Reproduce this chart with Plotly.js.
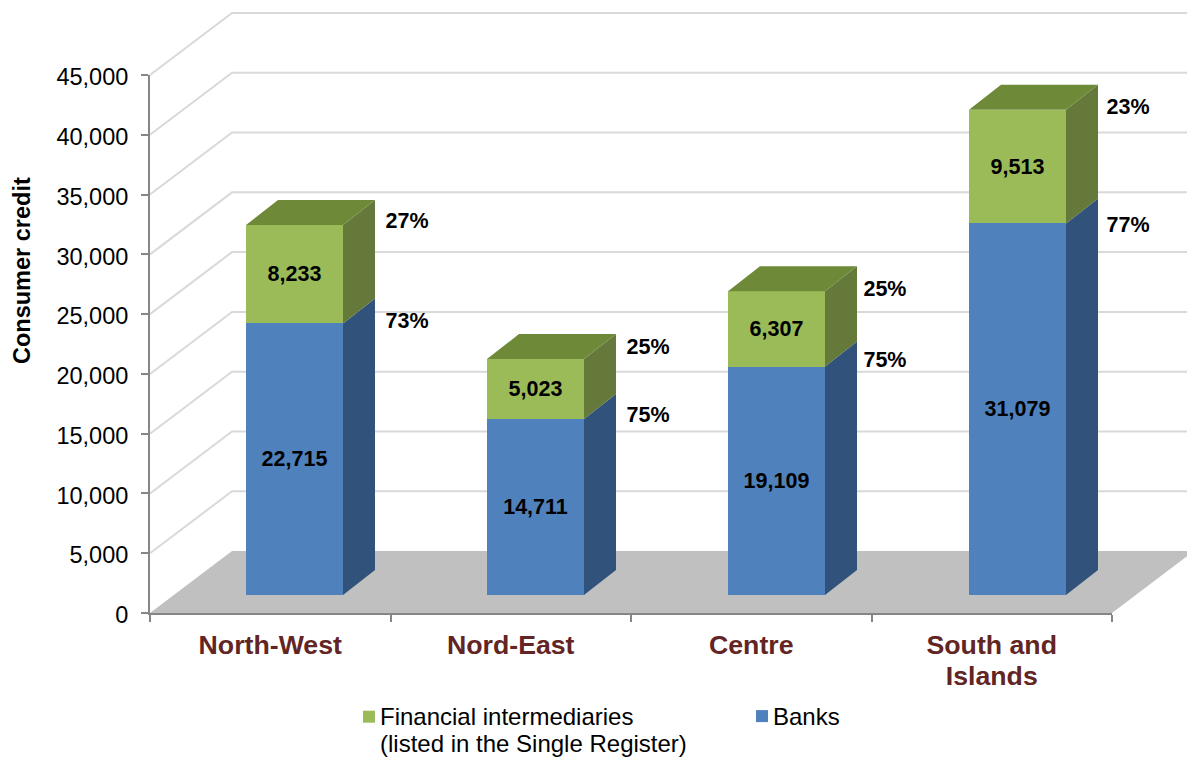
<!DOCTYPE html>
<html>
<head>
<meta charset="utf-8">
<script src="https://cdn.plot.ly/plotly-3.0.1.min.js"></script>
<style>html,body{margin:0;padding:0;background:#fff;overflow:hidden}#chart{width:1187px;height:758px}</style>
</head>
<body>
<div id="chart"></div>
<script>
// ---- Data ----
const categories = ["North-West", "Nord-East", "Centre", "South and<br>Islands"];
const banks = [22715, 14711, 19109, 31079];
const intermediaries = [8233, 5023, 6307, 9513];
const bankShare = ["73%", "75%", "75%", "77%"];
const intermediaryShare = ["27%", "25%", "25%", "23%"];
const bankShareY = [24300, 16440, 21040, 32325];
const intermediaryShareY = [32660, 22120, 26970, 42190];
const shareX = [0.569, 1.571, 2.556, 3.567];
const yTicks = [5000, 10000, 15000, 20000, 25000, 30000, 35000, 40000, 45000];

// ---- Geometry of the pseudo 3-D view (canvas pixels) ----
const W = 1187, H = 758;
const plot = {left: 150, right: 1112, top: 75, bottom: 613};
const pxPerCat = (plot.right - plot.left) / 4;
const pxPerVal = (plot.bottom - plot.top) / 45000;
const wall = {dx: 82 / pxPerCat, dy: 62 / pxPerVal};
const barStep = 241;
const box = {dx: 32 / barStep, dy: 25 / pxPerVal, w: 97 / barStep};
const shift = {x: 24, y: 18};
const font = '"Liberation Sans", Arial, sans-serif';

const colors = {
  blue: '#4F81BD', green: '#9BBB59', blueSide: '#31527A', greenSide: '#64793A',
  greenTop: '#6E8A39', floor: '#C0C0C0', grid: '#D9D9D9', axis: '#868686', cat: '#632523'
};

function polys(list) {
  const xs = [], ys = [];
  list.forEach(p => { p.forEach(q => { xs.push(q[0]); ys.push(q[1]); }); xs.push(null); ys.push(null); });
  return {x: xs, y: ys};
}
function filled(list, color, xa, ya) {
  const p = polys(list);
  return {type: 'scatter', mode: 'lines', x: p.x, y: p.y, xaxis: xa, yaxis: ya, fill: 'toself', fillcolor: color,
    line: {width: 0, color: color}, cliponaxis: false, hoverinfo: 'skip', showlegend: false};
}

const xL = -0.5, xR = 3.5;
const gridX = [], gridY = [];
yTicks.forEach(v => {
  gridX.push(xL, xL + wall.dx, xR + wall.dx, null);
  gridY.push(v, v + wall.dy, v + wall.dy, null);
});

// Walls, floor and share labels: xy (lowest layer, reaches the canvas edge)
const floor = filled([[[xL, 0], [xR, 0], [xR + wall.dx, wall.dy], [xL + wall.dx, wall.dy]]], colors.floor, 'x', 'y');
const grid = {type: 'scatter', mode: 'lines', x: gridX, y: gridY, xaxis: 'x', yaxis: 'y',
  line: {color: colors.grid, width: 2}, cliponaxis: false, hoverinfo: 'skip', showlegend: false};

const sideFace = (lo, hi, i) => {
  const a = i + box.w / 2, b = a + box.dx;
  return [[a, lo], [b, lo + box.dy], [b, hi + box.dy], [a, hi]];
};
const topFace = (hi, i) => {
  const l = i - box.w / 2, r = i + box.w / 2;
  return [[l, hi], [r, hi], [r + box.dx, hi + box.dy], [l + box.dx, hi + box.dy]];
};
const totals = banks.map((b, i) => b + intermediaries[i]);
const idx = categories.map((_, i) => i);

// Boxes: x2y2 (shifted forward on the floor)
const bankSides = filled(banks.map((b, i) => sideFace(0, b, i)), colors.blueSide, 'x2', 'y2');
const interSides = filled(banks.map((b, i) => sideFace(b, totals[i], i)), colors.greenSide, 'x2', 'y2');
const tops = filled(totals.map((t, i) => topFace(t, i)), colors.greenTop, 'x2', 'y2');

const fmt = v => v.toLocaleString('en-US');
const labelFont = {family: font, size: 21.5, color: '#000', weight: 700};

const bankBars = {type: 'bar', name: 'Banks', x: idx, y: banks, xaxis: 'x2', yaxis: 'y2', width: box.w,
  marker: {color: colors.blue, line: {width: 0}}, text: banks.map(fmt), textposition: 'inside',
  insidetextanchor: 'middle', textangle: 0, textfont: labelFont, constraintext: 'none', hoverinfo: 'skip'};
const interBars = {type: 'bar', name: 'Financial intermediaries<br>(listed in the Single Register)', x: idx,
  y: intermediaries, xaxis: 'x2', yaxis: 'y2', width: box.w,
  marker: {color: colors.green, line: {width: 0}}, text: intermediaries.map(fmt), textposition: 'inside',
  insidetextanchor: 'middle', textangle: 0, textfont: labelFont, constraintext: 'none', hoverinfo: 'skip'};

const shares = {type: 'scatter', mode: 'text', xaxis: 'x', yaxis: 'y',
  x: shareX.concat(shareX), y: bankShareY.concat(intermediaryShareY), text: bankShare.concat(intermediaryShare),
  textposition: 'middle center', textfont: labelFont, cliponaxis: false, hoverinfo: 'skip', showlegend: false};

// Visible axes: x3y3 (top layer); this trace only registers the categories on them
const axisCarrier = {type: 'scatter', mode: 'none', x: categories, y: totals, xaxis: 'x3', yaxis: 'y3',
  hoverinfo: 'skip', showlegend: false};

const layout = {
  width: W, height: H, margin: {l: 0, r: 0, t: 0, b: 0, autoexpand: false}, paper_bgcolor: '#fff', plot_bgcolor: 'rgba(0,0,0,0)',
  barmode: 'stack', showlegend: true, hovermode: false,
  xaxis: {type: 'linear', range: [xL, xL + (W - plot.left) / pxPerCat], domain: [plot.left / W, 1], anchor: 'y', visible: false},
  yaxis: {type: 'linear', range: [0, plot.bottom / pxPerVal], domain: [(H - plot.bottom) / H, 1], anchor: 'x', visible: false},
  xaxis2: {type: 'linear', range: [xL, xR], anchor: 'y2',
    domain: [(plot.left + shift.x) / W, (plot.left + shift.x + 4 * barStep) / W], visible: false},
  yaxis2: {type: 'linear', range: [0, 45000], anchor: 'x2',
    domain: [(H - plot.bottom + shift.y) / H, (H - plot.top + shift.y) / H], visible: false},
  xaxis3: {type: 'category', categoryorder: 'array', categoryarray: categories, range: [xL, xR], anchor: 'y3',
    domain: [plot.left / W, plot.right / W], tickson: 'boundaries', ticks: 'outside', ticklen: 7, tickwidth: 2,
    tickcolor: colors.axis, showline: true, linecolor: colors.axis, linewidth: 2, showgrid: false, zeroline: false,
    tickangle: 0, tickfont: {family: font, size: 26.7, color: colors.cat, weight: 700}, ticklabelstandoff: 7, automargin: false},
  yaxis3: {range: [0, 45000], anchor: 'x3', domain: [(H - plot.bottom) / H, (H - plot.top) / H], tick0: 0, dtick: 5000, tickformat: ',',
    ticks: 'outside', ticklen: 7, tickwidth: 2, tickcolor: colors.axis, showline: true, linecolor: colors.axis, linewidth: 2,
    showgrid: false, zeroline: false, tickfont: {family: font, size: 23.5, color: '#000'}, ticklabelstandoff: 8, ticklabelshift: 2, automargin: false},
  annotations: [{text: 'Consumer credit', xref: 'paper', yref: 'paper', x: 22 / W, y: 1 - 271 / H, xanchor: 'center', yanchor: 'middle',
    textangle: -90, showarrow: false, font: {family: font, size: 23.5, color: '#000', weight: 700}}],
  legend: {orientation: 'h', traceorder: 'reversed', x: 340 / W, xanchor: 'left', y: 1 - 694 / H, yanchor: 'top',
    font: {family: font, size: 24, color: '#000'}, bgcolor: 'rgba(0,0,0,0)', entrywidth: 348, entrywidthmode: 'pixels',
    itemclick: false, itemdoubleclick: false}
};

Plotly.newPlot('chart', [floor, grid, shares, bankBars, interBars, bankSides, interSides, tops, axisCarrier], layout,
  {displayModeBar: false, staticPlot: true}).then(() => {
    // Pull the square keys next to their text, as in the reference legend.
    document.querySelectorAll('#chart .legend .traces').forEach(t => {
      const g = t.querySelector('.legendpoints');
      if (g) g.setAttribute('transform', t.textContent.indexOf('Financial') >= 0 ? 'translate(9,-15)' : 'translate(9,0)');
    });
    // Tighter line spacing of the two-line texts, as in the reference.
    const tighten = (sel, dy) => document.querySelectorAll(sel).forEach(s => {
      if (parseFloat(s.getAttribute('dy')) > 0) s.setAttribute('dy', dy);
    });
    tighten('#chart .legendtext tspan.line', '1.12em');
    tighten('#chart .x3tick text tspan.line', '1.16em');
  });
</script>
</body>
</html>
